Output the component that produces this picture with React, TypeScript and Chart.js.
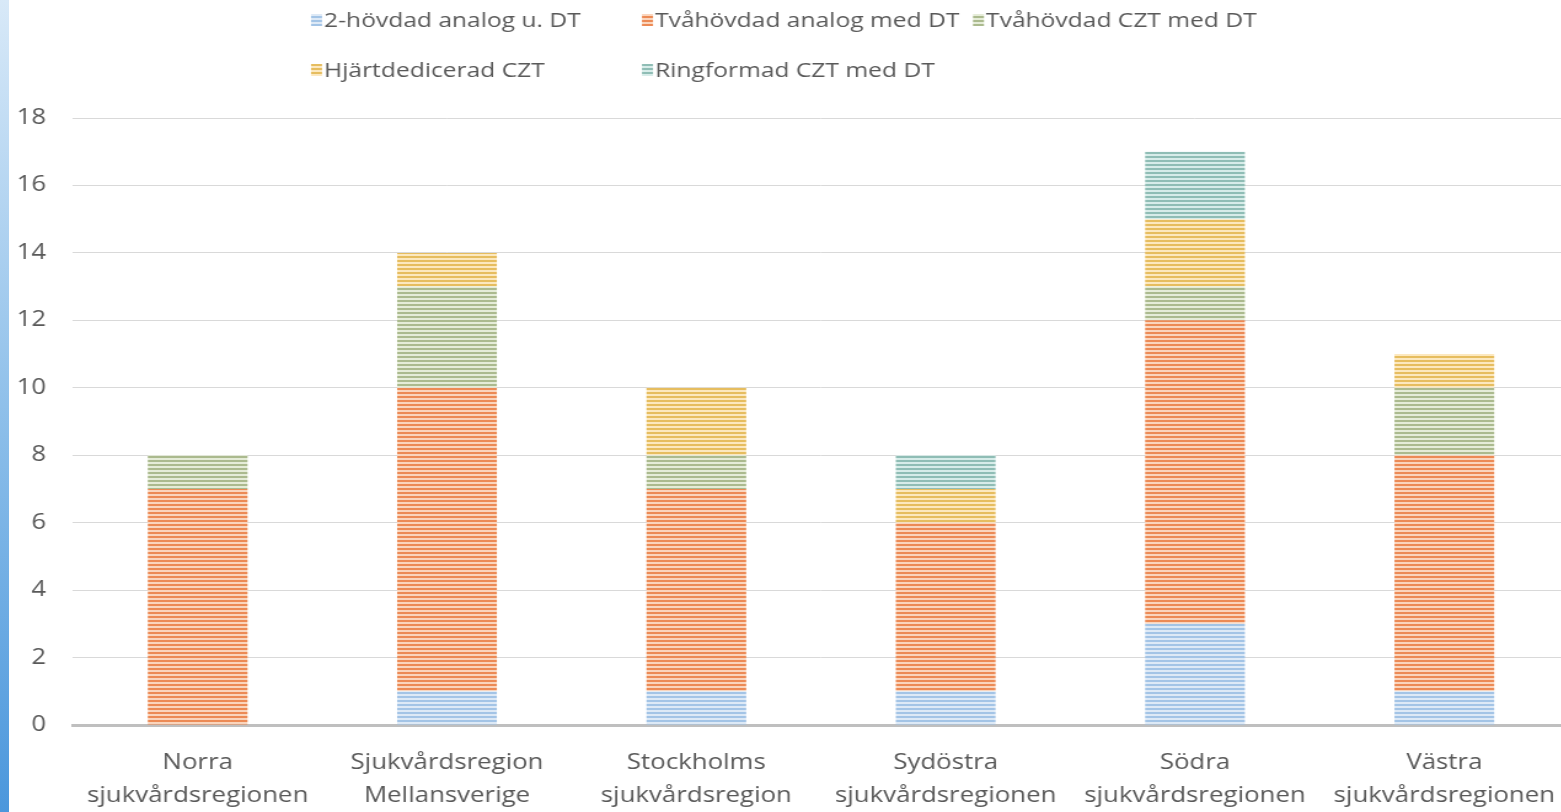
import React, { useEffect, useRef } from "react";
import { Chart, registerables } from "chart.js";

Chart.register(...registerables);

const categories: string[][] = [
  ["Norra", "sjukvårdsregionen"],
  ["Sjukvårdsregion", "Mellansverige"],
  ["Stockholms", "sjukvårdsregion"],
  ["Sydöstra", "sjukvårdsregionen"],
  ["Södra", "sjukvårdsregionen"],
  ["Västra", "sjukvårdsregionen"],
];

const seriesNames = [
  "2-hövdad analog u. DT",
  "Tvåhövdad analog med DT",
  "Tvåhövdad CZT med DT",
  "Hjärtdedicerad CZT",
  "Ringformad CZT med DT",
];

const twoHeadAnalogNoDT = [0, 1, 1, 1, 3, 1];
const twoHeadAnalogDT = [7, 9, 6, 5, 9, 7];
const twoHeadCZT = [1, 3, 1, 0, 1, 2];
const cardiacCZT = [0, 1, 2, 1, 2, 1];
const ringCZT = [0, 0, 0, 1, 2, 0];

const yTicks = [0, 2, 4, 6, 8, 10, 12, 14, 16, 18];

const stripeColors: [string, string][] = [
  ["#a3c4e6", "#dde9f6"],
  ["#ec8a55", "#fad5bd"],
  ["#abba8e", "#e5ecd8"],
  ["#e6bd5f", "#fce8bf"],
  ["#8fbdb5", "#d7ece9"],
];

// horizontal stretch of the rendered picture
const DISP_W = 1569;
const INT_W = 1276;
const S = DISP_W / INT_W;
const H = 812;

function makePattern(dark: string, light: string): CanvasPattern | string {
  const c = document.createElement("canvas");
  c.width = 8;
  c.height = 4;
  const ctx = c.getContext("2d");
  if (!ctx) return dark;
  ctx.fillStyle = light;
  ctx.fillRect(0, 0, 8, 4);
  ctx.fillStyle = dark;
  ctx.fillRect(0, 0, 8, 2);
  const p = ctx.createPattern(c, "repeat");
  return p || dark;
}

const FONT = "'Open Sans', 'Noto Sans', sans-serif";
const TEXT = "#595959";

export default function App() {
  const ref = useRef<HTMLCanvasElement | null>(null);

  useEffect(() => {
    if (!ref.current) return;
    const values = [twoHeadAnalogNoDT, twoHeadAnalogDT, twoHeadCZT, cardiacCZT, ringCZT];
    const patterns = stripeColors.map(([d, l]) => makePattern(d, l));

    const legendPlugin = {
      id: "customLegend",
      afterDraw(chart: any) {
        const ctx = chart.ctx;
        ctx.save();
        chart.data.datasets.forEach((ds: any, i: number) => {
          const col = i % 3;
          const row = Math.floor(i / 3);
          const x = (311 + col * 331) / S;
          const y = 20 + row * 50;
          ctx.fillStyle = patterns[i];
          ctx.fillRect(x, y - 6, 11 / S, 12);
          ctx.fillStyle = TEXT;
          ctx.font = `20px ${FONT}`;
          ctx.textBaseline = "middle";
          ctx.textAlign = "left";
          ctx.fillText(ds.label, x + 13 / S, y + 1);
        });
        ctx.restore();
      },
    };

    const chart = new Chart(ref.current, {
      type: "bar",
      data: {
        labels: categories,
        datasets: seriesNames.map((name, i) => ({
          label: name,
          data: values[i],
          backgroundColor: patterns[i] as any,
          borderWidth: 0,
          barPercentage: 0.8,
          categoryPercentage: 0.5,
        })),
      },
      options: {
        animation: false,
        responsive: false,
        maintainAspectRatio: false,
        devicePixelRatio: 1,
        layout: { padding: { top: 118, left: 0, right: 0, bottom: 0 } },
        plugins: {
          legend: { display: false },
          tooltip: { enabled: false },
        },
        scales: {
          x: {
            stacked: true,
            grid: { display: false, drawTicks: false },
            border: { display: true, color: "#bfbfbf", width: 3 },
            ticks: {
              color: TEXT,
              font: { family: FONT, size: 21, lineHeight: 1.57 },
              padding: 22,
              maxRotation: 0,
              autoSkip: false,
            },
            afterFit(scale: any) {
              scale.height = H - 725;
              scale.paddingLeft = 0;
              scale.paddingRight = 0;
            },
          },
          y: {
            stacked: true,
            min: 0,
            max: 18,
            afterBuildTicks(scale: any) {
              scale.ticks = yTicks.map((v) => ({ value: v }));
            },
            grid: { color: "#d9d9d9", lineWidth: 1, drawTicks: false },
            border: { display: false },
            ticks: {
              color: TEXT,
              font: { family: FONT, size: 21 },
              padding: 27 / S,
            },
            afterFit(scale: any) {
              scale.width = 73 / S;
            },
          },
        },
      },
      plugins: [legendPlugin],
    });
    return () => chart.destroy();
  }, []);

  return (
    <div
      style={{
        position: "fixed",
        left: 0,
        top: 0,
        width: "100vw",
        height: "100vh",
        overflow: "hidden",
        background: "#ffffff",
      }}
    >
      <canvas
        ref={ref}
        width={INT_W}
        height={H}
        style={{ position: "absolute", left: 0, top: 0, width: DISP_W, height: H }}
      />
      <div
        style={{
          position: "absolute",
          left: 0,
          top: 0,
          width: 9,
          height: H,
          background: "linear-gradient(to bottom, #d8e9f8, #8fc0ea 50%, #4b97dc)",
        }}
      />
    </div>
  );
}
